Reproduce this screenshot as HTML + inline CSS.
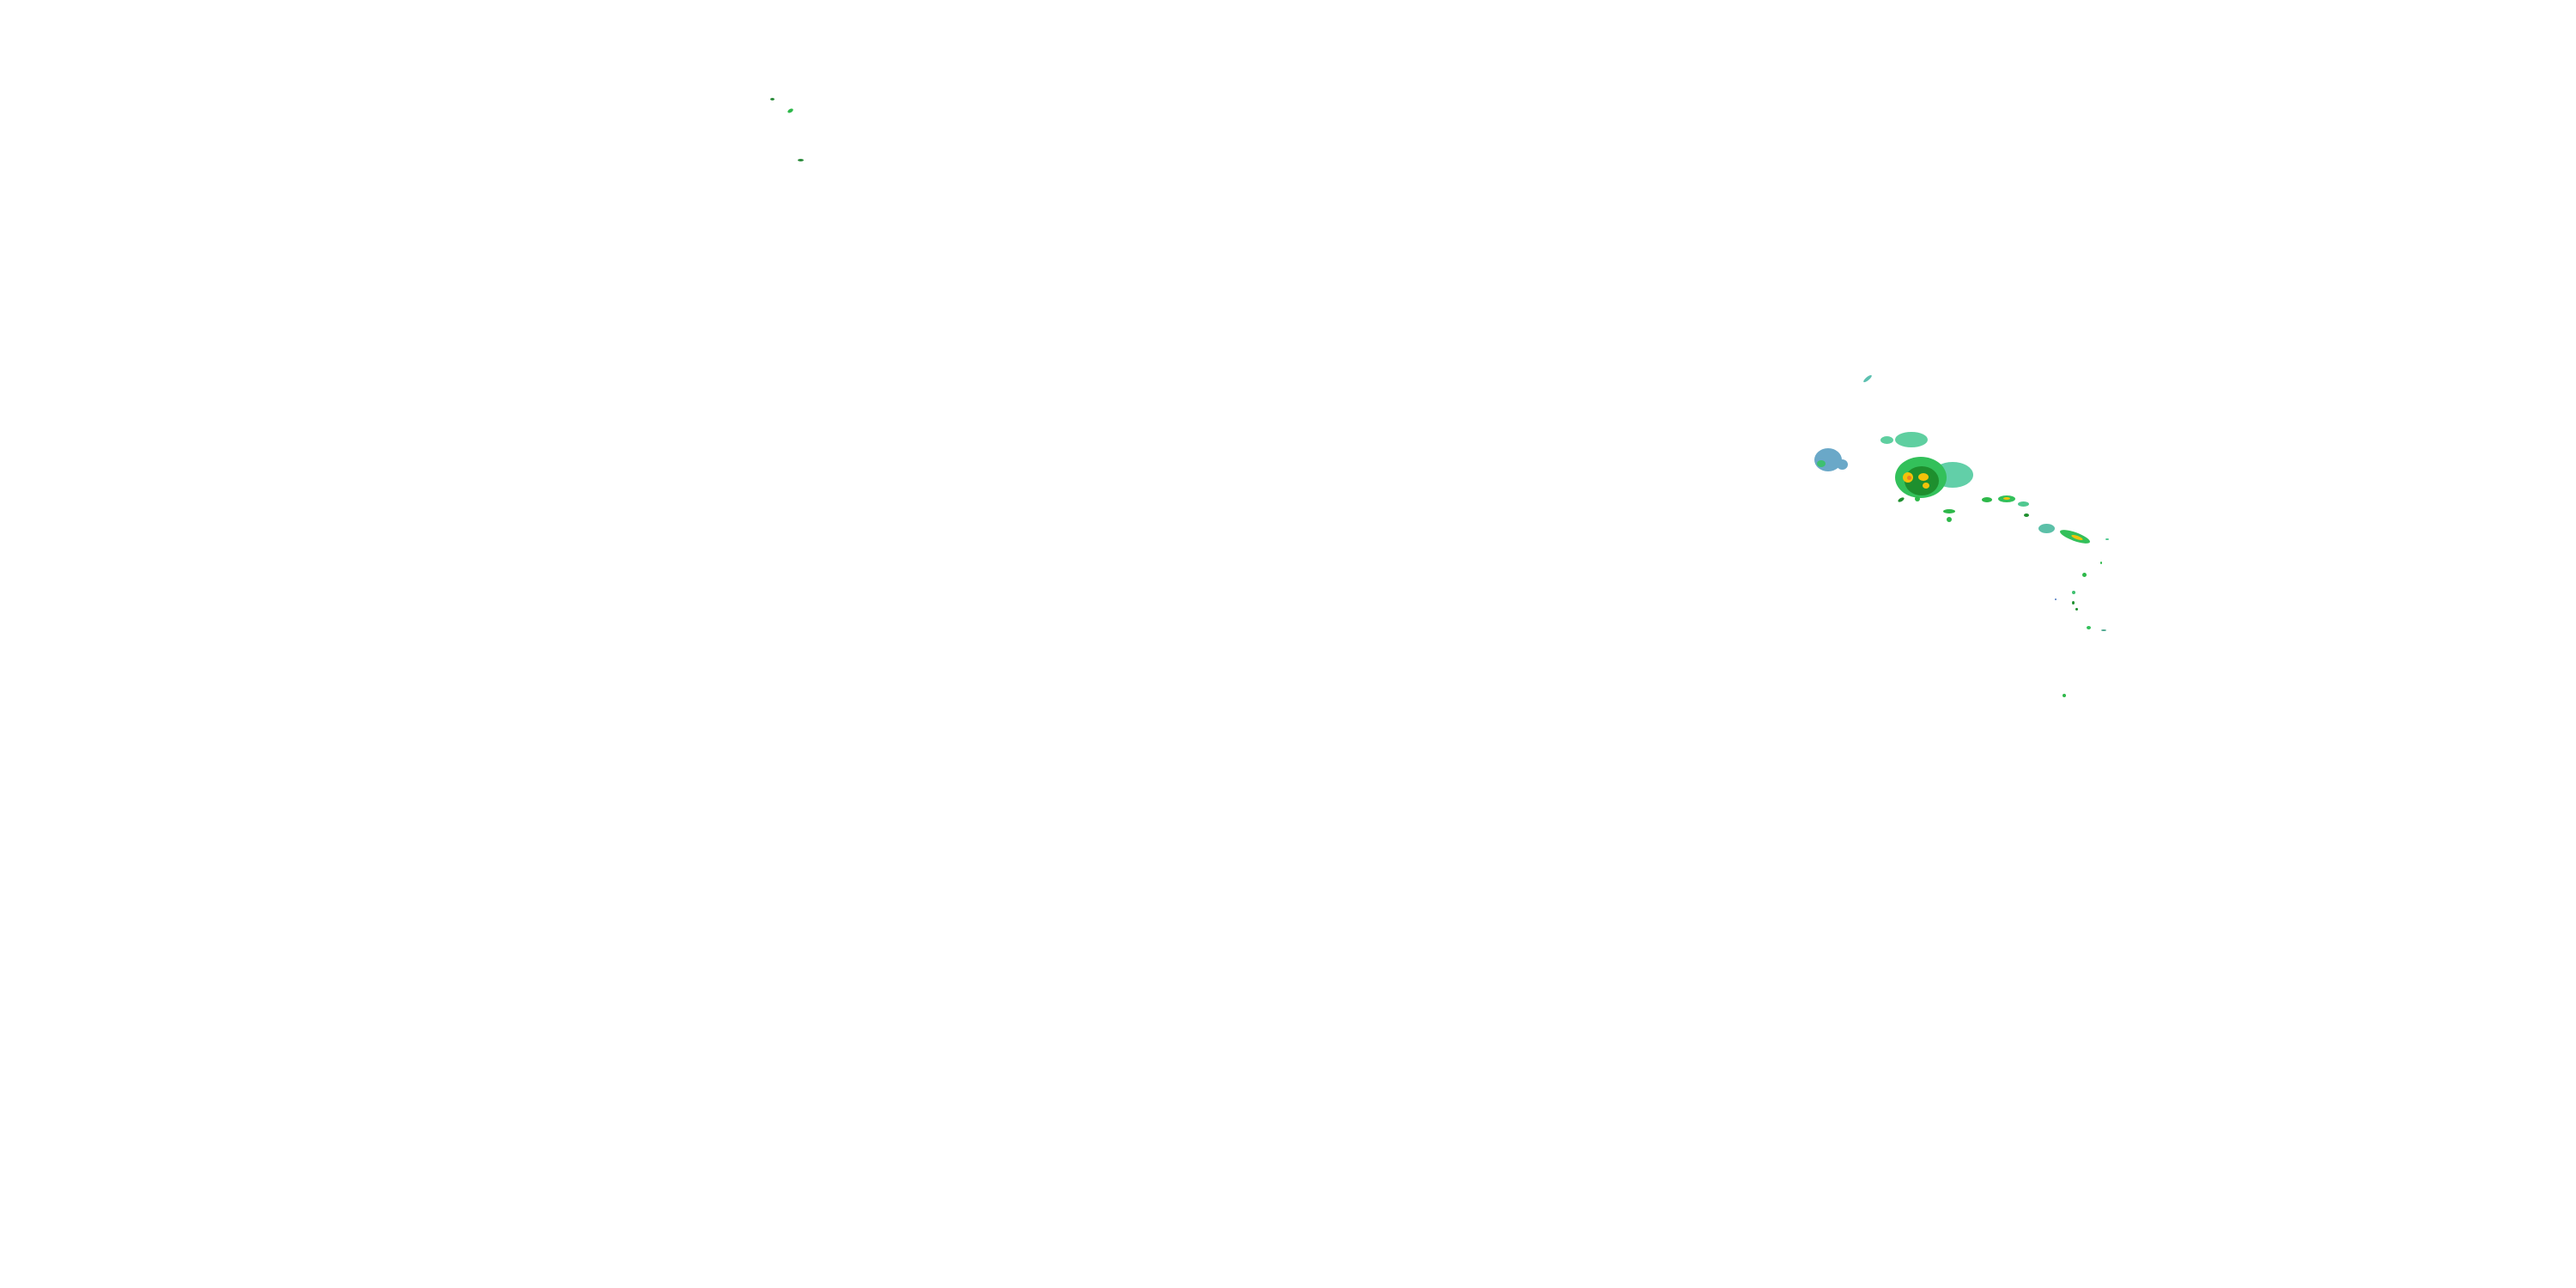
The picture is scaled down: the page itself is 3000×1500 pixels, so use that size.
<!DOCTYPE html>
<html><head><meta charset="utf-8"><style>
html,body{margin:0;padding:0;background:#fff;}
body{width:3000px;height:1500px;position:relative;overflow:hidden;}
.b{position:absolute;border-radius:50%;}
</style></head><body>
<!-- upper-left specks -->
<div class="b" style="left:897px;top:114px;width:5px;height:3px;background:#2a8a3a"></div>
<div class="b" style="left:917px;top:127px;width:7px;height:4px;background:#2eb84a;transform:rotate(-30deg)"></div>
<div class="b" style="left:929px;top:185px;width:7px;height:3px;background:#2a8a3a"></div>
<!-- top streak -->
<div class="b" style="left:2169px;top:439px;width:12px;height:4px;background:#5cc0b0;transform:rotate(-40deg)"></div>
<!-- blue blob -->
<div class="b" style="left:2113px;top:522px;width:32px;height:27px;background:#6aa8c8"></div>
<div class="b" style="left:2139px;top:535px;width:13px;height:12px;background:#6aa8c8"></div>
<div class="b" style="left:2116px;top:536px;width:10px;height:8px;background:#3ec070"></div>
<!-- upper teal -->
<div class="b" style="left:2190px;top:508px;width:15px;height:9px;background:#5fcfa0"></div>
<div class="b" style="left:2207px;top:503px;width:38px;height:18px;background:#5fcfa0"></div>
<!-- main storm -->
<div class="b" style="left:2250px;top:538px;width:48px;height:30px;background:#62cfa8"></div>
<div class="b" style="left:2207px;top:532px;width:60px;height:48px;background:#33c05a"></div>
<div class="b" style="left:2218px;top:543px;width:40px;height:34px;background:#1e8f2e"></div>
<div class="b" style="left:2216px;top:550px;width:12px;height:12px;background:#f2c20a"></div>
<div class="b" style="left:2234px;top:551px;width:12px;height:9px;background:#f2c20a"></div>
<div class="b" style="left:2239px;top:562px;width:8px;height:7px;background:#f2c20a"></div>
<div class="b" style="left:2221px;top:554px;width:5px;height:5px;background:#f08020"></div>
<div class="b" style="left:2230px;top:578px;width:6px;height:6px;background:#2eb84a"></div>
<div class="b" style="left:2210px;top:580px;width:8px;height:4px;background:#1e8f2e;transform:rotate(-30deg)"></div>
<!-- trailing cells -->
<div class="b" style="left:2263px;top:593px;width:14px;height:5px;background:#2eb84a"></div>
<div class="b" style="left:2267px;top:602px;width:6px;height:6px;background:#2eb84a"></div>
<div class="b" style="left:2308px;top:579px;width:12px;height:6px;background:#2eb84a"></div>
<div class="b" style="left:2327px;top:577px;width:20px;height:8px;background:#33c05a"></div>
<div class="b" style="left:2333px;top:579px;width:8px;height:3px;background:#f2c20a"></div>
<div class="b" style="left:2350px;top:584px;width:13px;height:6px;background:#4fc890"></div>
<div class="b" style="left:2357px;top:598px;width:6px;height:4px;background:#1e8f2e"></div>
<div class="b" style="left:2374px;top:610px;width:19px;height:11px;background:#5cc0a8"></div>
<div class="b" style="left:2398px;top:620px;width:37px;height:10px;background:#33c05a;transform:rotate(20deg)"></div>
<div class="b" style="left:2412px;top:624px;width:14px;height:4px;background:#f2c20a;transform:rotate(20deg)"></div>
<div class="b" style="left:2452px;top:627px;width:4px;height:2px;background:#4fc890"></div>
<div class="b" style="left:2446px;top:654px;width:2px;height:3px;background:#2eb84a"></div>
<div class="b" style="left:2425px;top:667px;width:5px;height:5px;background:#2eb84a"></div>
<div class="b" style="left:2413px;top:688px;width:4px;height:4px;background:#3ec070"></div>
<div class="b" style="left:2413px;top:700px;width:3px;height:4px;background:#1e8f2e"></div>
<div class="b" style="left:2417px;top:708px;width:3px;height:3px;background:#1e8f2e"></div>
<div class="b" style="left:2393px;top:697px;width:2px;height:2px;background:#4a78c0"></div>
<div class="b" style="left:2430px;top:729px;width:5px;height:4px;background:#33c05a"></div>
<div class="b" style="left:2447px;top:733px;width:6px;height:2px;background:#4fa890"></div>
<div class="b" style="left:2402px;top:808px;width:4px;height:4px;background:#2eb84a"></div>
</body></html>
